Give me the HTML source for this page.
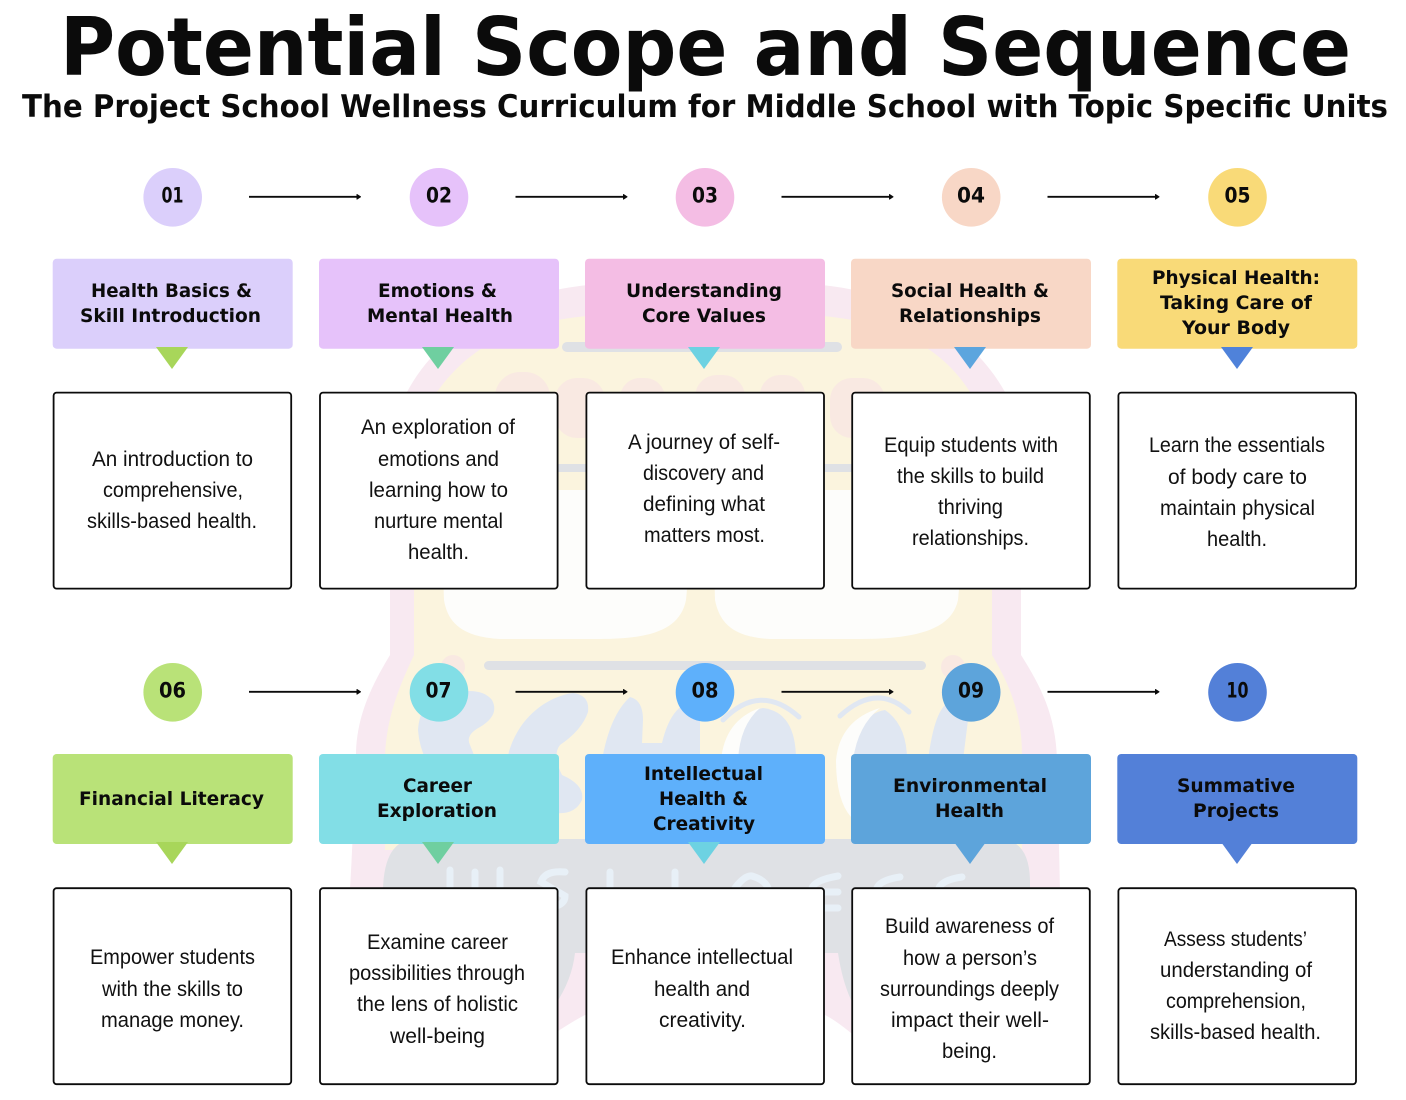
<!DOCTYPE html>
<html><head><meta charset="utf-8"><style>
html,body{margin:0;padding:0;background:#fff;width:1406px;height:1100px;overflow:hidden}
svg{display:block}
text{text-anchor:middle;fill:#0b0b0b}
.t{font-family:"DejaVu Sans",sans-serif;font-weight:bold}
.h{font-family:"DejaVu Sans",sans-serif;font-weight:bold;font-size:19px}
.n{font-family:"DejaVu Sans",sans-serif;font-weight:bold;font-size:21px}
.b{font-family:"Liberation Sans",sans-serif;font-size:21px;fill:#111}
.card{fill:#fff;stroke:#0b0b0b;stroke-width:1.8}
.l{stroke:#0b0b0b;stroke-width:1.8}
</style></head><body>
<svg width="1406" height="1100" viewBox="0 0 1406 1100" xmlns="http://www.w3.org/2000/svg">
<!-- watermark: pink outline -->
<path d="M390 655V500C390 450 398 415 407 392C440 330 510 290 600 284Q705 278 810 284C900 290 970 330 1005 392C1015 420 1020 450 1021 500V655C1040 685 1056 715 1057 760L1060 890L1060 1000Q1000 1030 851 1033Q835 1020 825 1015H585Q575 1020 555 1033Q400 1030 350 1000V888Q352 860 356 753C357 715 372 685 390 655Z" fill="#f8e9f1"/>
<!-- yellow body -->
<path d="M414 655V500C414 450 425 420 437 392C470 345 520 320 600 315H810C890 320 940 345 970 392C982 420 992 450 992 500V655C1010 685 1022 715 1022 755V850H385V755C387 715 400 685 414 655Z" fill="#fbf4de"/>
<!-- windows -->
<path d="M440 490H691Q690 560 686 600C680 630 650 639 600 639H500C465 637 448 625 444 600Z" fill="#fdfdfb"/>
<path d="M712 490H962Q962 560 958 600C952 628 920 639 860 639H770C735 637 720 625 715 600Z" fill="#fdfdfb"/>
<!-- bars -->
<rect x="562" y="342" width="280" height="10" rx="5" fill="#dfe1e5"/>
<rect x="440" y="464" width="530" height="8" rx="4" fill="#dfe1e5"/>
<rect x="484" y="661" width="442" height="9" rx="4.5" fill="#dfe1e5"/>
<!-- pink blobs -->
<g fill="#f9e9e2"><rect x="495" y="372" width="55" height="70" rx="25"/><rect x="555" y="378" width="50" height="60" rx="22"/><rect x="620" y="378" width="45" height="60" rx="20"/><rect x="695" y="375" width="50" height="65" rx="22"/><rect x="760" y="375" width="45" height="60" rx="20"/><rect x="830" y="378" width="55" height="60" rx="22"/><circle cx="453" cy="667" r="12"/><circle cx="953" cy="667" r="12"/></g>
<!-- grey bumper with wheel lobes -->
<path d="M383 890Q384 840 415 839H1000Q1029 840 1030 880V1000Q900 1010 851 1000Q842 980 838 953H575Q572 980 555 1005Q450 1010 383 1000Z" fill="#dfe1e5"/>
<!-- blue letter blobs -->
<g fill="#e0e7f2">
<path d="M418 730Q420 700 445 695Q480 685 492 700Q500 715 480 727Q465 735 470 745L480 770Q515 775 530 800Q520 830 480 820L445 790Q420 760 418 730Z"/>
<path d="M507 760C515 720 545 697 573 693Q590 695 588 712Q582 730 560 745Q552 755 562 775Q585 785 582 800Q575 815 555 813Q515 810 505 790Z"/>
<path d="M602 760Q610 715 630 697Q643 700 643 720L642 743H662Q672 700 700 700V844H600Z"/>
<path d="M738 844V760Q740 712 763 708Q796 712 796 760V844Z"/>
<path d="M853 844V760Q856 715 885 710Q907 725 907 760V844Z"/>
<path d="M923 844Q925 725 945 705L968 720L963 760L955 844Z"/>
</g>
<path d="M721 760Q725 720 760 708Q740 725 738 760V830H722Z" fill="#fdfdfb"/>
<path d="M851 817Q836 800 836 760Q840 720 880 708Q858 725 853 760V817Z" fill="#fdfdfb"/>
<g fill="none" stroke="#e0e7f2" stroke-width="5" stroke-linecap="round"><path d="M723 720Q760 682 799 717"/><path d="M840 716Q877 682 909 712"/></g>
<!-- WELLNESS strokes -->
<g fill="none" stroke="#e8f0f7" stroke-width="7" stroke-linecap="round"><path d="M450 870V890M475 872V890M500 870V890"/><path d="M565 872Q545 870 541 882Q555 890 565 896Q565 908 540 908"/><path d="M610 872V890"/><path d="M675 872V890"/><path d="M735 888Q745 875 752 876Q765 880 768 888"/><path d="M838 876Q815 880 812 888M838 892H812M838 908H815"/><path d="M900 877Q880 880 877 888"/><path d="M962 877Q942 880 939 888"/></g>
<!-- title -->
<text class="t" x="705.5" y="75" font-size="80" textLength="1291" lengthAdjust="spacingAndGlyphs">Potential Scope and Sequence</text>
<text class="t" x="705" y="117" font-size="31" textLength="1366" lengthAdjust="spacingAndGlyphs">The Project School Wellness Curriculum for Middle School with Topic Specific Units</text>
<!-- circles -->
<circle cx="172.7" cy="197.3" r="29.3" fill="#dbcffb"/><circle cx="439" cy="197.3" r="29.3" fill="#e6c2fa"/><circle cx="705" cy="197.3" r="29.3" fill="#f4bde4"/><circle cx="971.2" cy="197.3" r="29.3" fill="#f8d7c6"/><circle cx="1237.5" cy="197.3" r="29.3" fill="#f9da78"/>
<circle cx="172.7" cy="692.3" r="29.3" fill="#b9e278"/><circle cx="439" cy="692.3" r="29.3" fill="#82dee6"/><circle cx="705" cy="692.3" r="29.3" fill="#5eb0fb"/><circle cx="971.2" cy="692.3" r="29.3" fill="#5da4db"/><circle cx="1237.5" cy="692.3" r="29.3" fill="#5380d8"/>
<text class="n" x="172.5" y="202.5" textLength="22" lengthAdjust="spacingAndGlyphs">01</text><text class="n" x="439" y="202.5" textLength="26" lengthAdjust="spacingAndGlyphs">02</text><text class="n" x="705" y="202.5" textLength="26" lengthAdjust="spacingAndGlyphs">03</text><text class="n" x="971" y="202.5" textLength="28" lengthAdjust="spacingAndGlyphs">04</text><text class="n" x="1237.5" y="202.5" textLength="26" lengthAdjust="spacingAndGlyphs">05</text>
<text class="n" x="172.5" y="697.5" textLength="27" lengthAdjust="spacingAndGlyphs">06</text><text class="n" x="438.5" y="697.5" textLength="26" lengthAdjust="spacingAndGlyphs">07</text><text class="n" x="705" y="697.5" textLength="27" lengthAdjust="spacingAndGlyphs">08</text><text class="n" x="971" y="697.5" textLength="26" lengthAdjust="spacingAndGlyphs">09</text><text class="n" x="1237.5" y="697.5" textLength="22" lengthAdjust="spacingAndGlyphs">10</text>
<!-- arrows -->
<path class="l" d="M249 196.8H359M515.5 196.8H625.5M781.5 196.8H891.5M1047.5 196.8H1157.5M249 691.8H359M515.5 691.8H625.5M781.5 691.8H891.5M1047.5 691.8H1157.5"/>
<path fill="#0b0b0b" stroke="#0b0b0b" stroke-width="1" stroke-linejoin="round" d="M357 194.5l3.5 2.3l-3.5 2.3zM623.5 194.5l3.5 2.3l-3.5 2.3zM889.5 194.5l3.5 2.3l-3.5 2.3zM1155.5 194.5l3.5 2.3l-3.5 2.3zM357 689.5l3.5 2.3l-3.5 2.3zM623.5 689.5l3.5 2.3l-3.5 2.3zM889.5 689.5l3.5 2.3l-3.5 2.3zM1155.5 689.5l3.5 2.3l-3.5 2.3z"/>
<!-- header boxes -->
<rect x="52.7" y="258.7" width="240" height="90" rx="4" fill="#dbcffb"/><rect x="319" y="258.7" width="240" height="90" rx="4" fill="#e6c2fa"/><rect x="585" y="258.7" width="240" height="90" rx="4" fill="#f4bde4"/><rect x="851" y="258.7" width="240" height="90" rx="4" fill="#f8d7c6"/><rect x="1117.3" y="258.7" width="240" height="90" rx="4" fill="#f9da78"/>
<rect x="52.7" y="754" width="240" height="90" rx="4" fill="#b9e278"/><rect x="319" y="754" width="240" height="90" rx="4" fill="#82dee6"/><rect x="585" y="754" width="240" height="90" rx="4" fill="#5eb0fb"/><rect x="851" y="754" width="240" height="90" rx="4" fill="#5da4db"/><rect x="1117.3" y="754" width="240" height="90" rx="4" fill="#5380d8"/>
<!-- triangles on top of the boxes -->
<path fill="#a8d65a" d="M156 347H188L172 369Z"/><path fill="#6fcfa0" d="M422 347H454L438 369Z"/><path fill="#6dd2e2" d="M688 347H720L704 369Z"/><path fill="#5ca5de" d="M954 347H986L970 369Z"/><path fill="#4f82da" d="M1221 347H1253L1237 369Z"/>
<path fill="#a8d65a" d="M156 842H188L172 864Z"/><path fill="#6fcfa0" d="M422 842H454L438 864Z"/><path fill="#6dd2e2" d="M688 842H720L704 864Z"/><path fill="#5da4db" d="M954 842H986L970 864Z"/><path fill="#5380d8" d="M1221 842H1253L1237 864Z"/>
<!-- header text -->
<text class="h" x="171.5" y="297" textLength="161" lengthAdjust="spacingAndGlyphs">Health Basics &amp;</text><text class="h" x="170.5" y="322" textLength="181" lengthAdjust="spacingAndGlyphs">Skill Introduction</text>
<text class="h" x="437.5" y="297" textLength="119" lengthAdjust="spacingAndGlyphs">Emotions &amp;</text><text class="h" x="440" y="322" textLength="146" lengthAdjust="spacingAndGlyphs">Mental Health</text>
<text class="h" x="704" y="297" textLength="156" lengthAdjust="spacingAndGlyphs">Understanding</text><text class="h" x="704" y="322" textLength="124" lengthAdjust="spacingAndGlyphs">Core Values</text>
<text class="h" x="970" y="297" textLength="158" lengthAdjust="spacingAndGlyphs">Social Health &amp;</text><text class="h" x="970" y="322" textLength="142" lengthAdjust="spacingAndGlyphs">Relationships</text>
<text class="h" x="1236" y="284" textLength="168" lengthAdjust="spacingAndGlyphs">Physical Health:</text><text class="h" x="1236" y="309" textLength="152" lengthAdjust="spacingAndGlyphs">Taking Care of</text><text class="h" x="1236" y="334" textLength="108" lengthAdjust="spacingAndGlyphs">Your Body</text>
<text class="h" x="171.5" y="805" textLength="185" lengthAdjust="spacingAndGlyphs">Financial Literacy</text>
<text class="h" x="437.5" y="792" textLength="69" lengthAdjust="spacingAndGlyphs">Career</text><text class="h" x="437" y="817" textLength="120" lengthAdjust="spacingAndGlyphs">Exploration</text>
<text class="h" x="703.5" y="780" textLength="119" lengthAdjust="spacingAndGlyphs">Intellectual</text><text class="h" x="703.5" y="805" textLength="89" lengthAdjust="spacingAndGlyphs">Health &amp;</text><text class="h" x="704" y="830" textLength="102" lengthAdjust="spacingAndGlyphs">Creativity</text>
<text class="h" x="970" y="792" textLength="154" lengthAdjust="spacingAndGlyphs">Environmental</text><text class="h" x="969.5" y="817" textLength="69" lengthAdjust="spacingAndGlyphs">Health</text>
<text class="h" x="1236" y="792" textLength="118" lengthAdjust="spacingAndGlyphs">Summative</text><text class="h" x="1236" y="817" textLength="86" lengthAdjust="spacingAndGlyphs">Projects</text>
<!-- cards -->
<rect class="card" x="53.6" y="392.6" width="237.6" height="196" rx="3"/><rect class="card" x="320" y="392.6" width="237.6" height="196" rx="3"/><rect class="card" x="586.4" y="392.6" width="237.6" height="196" rx="3"/><rect class="card" x="852.2" y="392.6" width="237.6" height="196" rx="3"/><rect class="card" x="1118.4" y="392.6" width="237.6" height="196" rx="3"/>
<rect class="card" x="53.6" y="888.2" width="237.6" height="196" rx="3"/><rect class="card" x="320" y="888.2" width="237.6" height="196" rx="3"/><rect class="card" x="586.4" y="888.2" width="237.6" height="196" rx="3"/><rect class="card" x="852.2" y="888.2" width="237.6" height="196" rx="3"/><rect class="card" x="1118.4" y="888.2" width="237.6" height="196" rx="3"/>
<!-- body text -->
<text class="b" x="172.5" y="466" textLength="161" lengthAdjust="spacingAndGlyphs">An introduction to</text><text class="b" x="173" y="497" textLength="140" lengthAdjust="spacingAndGlyphs">comprehensive,</text><text class="b" x="172" y="528" textLength="170" lengthAdjust="spacingAndGlyphs">skills-based health.</text>
<text class="b" x="438" y="434" textLength="154" lengthAdjust="spacingAndGlyphs">An exploration of</text><text class="b" x="438.5" y="466" textLength="121" lengthAdjust="spacingAndGlyphs">emotions and</text><text class="b" x="438.5" y="497" textLength="139" lengthAdjust="spacingAndGlyphs">learning how to</text><text class="b" x="438.5" y="528" textLength="129" lengthAdjust="spacingAndGlyphs">nurture mental</text><text class="b" x="438.5" y="559" textLength="61" lengthAdjust="spacingAndGlyphs">health.</text>
<text class="b" x="704" y="449" textLength="152" lengthAdjust="spacingAndGlyphs">A journey of self-</text><text class="b" x="703.5" y="480" textLength="121" lengthAdjust="spacingAndGlyphs">discovery and</text><text class="b" x="704" y="511" textLength="122" lengthAdjust="spacingAndGlyphs">defining what</text><text class="b" x="704.5" y="542" textLength="121" lengthAdjust="spacingAndGlyphs">matters most.</text>
<text class="b" x="971" y="452" textLength="174" lengthAdjust="spacingAndGlyphs">Equip students with</text><text class="b" x="970.5" y="483" textLength="147" lengthAdjust="spacingAndGlyphs">the skills to build</text><text class="b" x="970.5" y="514" textLength="65" lengthAdjust="spacingAndGlyphs">thriving</text><text class="b" x="970.5" y="545" textLength="117" lengthAdjust="spacingAndGlyphs">relationships.</text>
<text class="b" x="1237" y="452" textLength="176" lengthAdjust="spacingAndGlyphs">Learn the essentials</text><text class="b" x="1237.5" y="484" textLength="139" lengthAdjust="spacingAndGlyphs">of body care to</text><text class="b" x="1237.5" y="515" textLength="155" lengthAdjust="spacingAndGlyphs">maintain physical</text><text class="b" x="1237" y="546" textLength="60" lengthAdjust="spacingAndGlyphs">health.</text>
<text class="b" x="172.5" y="964" textLength="165" lengthAdjust="spacingAndGlyphs">Empower students</text><text class="b" x="172.5" y="996" textLength="141" lengthAdjust="spacingAndGlyphs">with the skills to</text><text class="b" x="172.5" y="1027" textLength="143" lengthAdjust="spacingAndGlyphs">manage money.</text>
<text class="b" x="437.5" y="949" textLength="141" lengthAdjust="spacingAndGlyphs">Examine career</text><text class="b" x="437" y="980" textLength="176" lengthAdjust="spacingAndGlyphs">possibilities through</text><text class="b" x="437.5" y="1011" textLength="161" lengthAdjust="spacingAndGlyphs">the lens of holistic</text><text class="b" x="437.5" y="1043" textLength="95" lengthAdjust="spacingAndGlyphs">well-being</text>
<text class="b" x="702" y="964" textLength="182" lengthAdjust="spacingAndGlyphs">Enhance intellectual</text><text class="b" x="702" y="996" textLength="96" lengthAdjust="spacingAndGlyphs">health and</text><text class="b" x="702.5" y="1027" textLength="87" lengthAdjust="spacingAndGlyphs">creativity.</text>
<text class="b" x="969.5" y="933" textLength="169" lengthAdjust="spacingAndGlyphs">Build awareness of</text><text class="b" x="970" y="965" textLength="134" lengthAdjust="spacingAndGlyphs">how a person’s</text><text class="b" x="969.5" y="996" textLength="179" lengthAdjust="spacingAndGlyphs">surroundings deeply</text><text class="b" x="970" y="1027" textLength="158" lengthAdjust="spacingAndGlyphs">impact their well-</text><text class="b" x="969.5" y="1058" textLength="55" lengthAdjust="spacingAndGlyphs">being.</text>
<text class="b" x="1235.5" y="946" textLength="143" lengthAdjust="spacingAndGlyphs">Assess students’</text><text class="b" x="1236" y="977" textLength="152" lengthAdjust="spacingAndGlyphs">understanding of</text><text class="b" x="1236" y="1008" textLength="140" lengthAdjust="spacingAndGlyphs">comprehension,</text><text class="b" x="1235.5" y="1039" textLength="171" lengthAdjust="spacingAndGlyphs">skills-based health.</text>
</svg>
</body></html>
